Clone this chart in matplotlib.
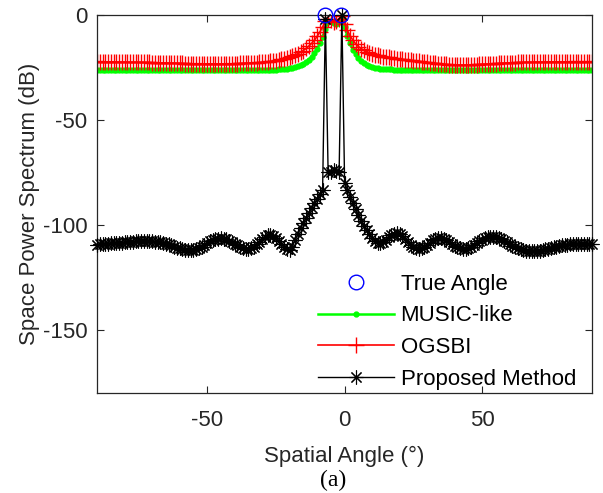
import matplotlib
matplotlib.use("Agg")
import matplotlib.pyplot as plt
import numpy as np

# ==========================================================
# Data (dB values, 1 degree grid)
# ==========================================================

angle_grid = np.arange(-90, 91, 1)

true_angles = [-7.3, -1.3]
true_power = [0.0, 0.0]

music_like = [
    -26.3, -26.3, -26.3, -26.3, -26.3, -26.3, -26.3, -26.3, -26.3, -26.3,   # -90
    -26.3, -26.3, -26.3, -26.3, -26.3, -26.3, -26.3, -26.3, -26.3, -26.3,   # -80
    -26.3, -26.3, -26.3, -26.3, -26.3, -26.3, -26.3, -26.3, -26.3, -26.3,   # -70
    -26.3, -26.3, -26.3, -26.3, -26.3, -26.3, -26.3, -26.3, -26.3, -26.3,   # -60
    -26.3, -26.3, -26.3, -26.3, -26.3, -26.3, -26.3, -26.3, -26.3, -26.3,   # -50
    -26.3, -26.3, -26.3, -26.3, -26.3, -26.3, -26.3, -26.3, -26.3, -26.3,   # -40
    -26.3, -26.2, -26.2, -26.2, -26.1, -26.1, -26.0, -25.9, -25.8, -25.7,   # -30
    -25.5, -25.3, -25.0, -24.6, -24.0, -23.3, -22.4, -21.3, -20.0, -18.3,   # -20
    -16.2, -13.6, -10.5, -6.8, -3.6, -3.0, -4.0, -4.5, -3.2, -2.4,          # -10
    -6.0, -10.0, -13.6, -16.6, -18.8, -20.6, -22.0, -23.1, -23.9, -24.5,    # 0
    -25.0, -25.3, -25.5, -25.7, -25.8, -25.9, -26.0, -26.0, -26.1, -26.1,   # 10
    -26.2, -26.2, -26.2, -26.2, -26.2, -26.3, -26.3, -26.3, -26.3, -26.3,   # 20
    -26.3, -26.3, -26.3, -26.3, -26.3, -26.3, -26.3, -26.3, -26.3, -26.3,   # 30
    -26.3, -26.3, -26.3, -26.3, -26.3, -26.3, -26.3, -26.3, -26.3, -26.3,   # 40
    -26.3, -26.3, -26.3, -26.3, -26.3, -26.3, -26.3, -26.3, -26.3, -26.3,   # 50
    -26.3, -26.3, -26.3, -26.3, -26.3, -26.3, -26.3, -26.3, -26.3, -26.3,   # 60
    -26.3, -26.3, -26.3, -26.3, -26.3, -26.3, -26.3, -26.3, -26.3, -26.3,   # 70
    -26.3, -26.3, -26.3, -26.3, -26.3, -26.3, -26.3, -26.3, -26.3, -26.3,   # 80
    -26.3,                                                                   # 90
]

ogsbi = [
    -22.3, -22.3, -22.3, -22.4, -22.4, -22.4, -22.4, -22.5, -22.5, -22.5,   # -90
    -22.5, -22.5, -22.6, -22.6, -22.6, -22.6, -22.7, -22.7, -22.7, -22.7,   # -80
    -22.8, -22.8, -22.8, -22.9, -22.9, -22.9, -23.0, -23.0, -23.0, -23.1,   # -70
    -23.1, -23.1, -23.2, -23.2, -23.2, -23.3, -23.3, -23.3, -23.3, -23.4,   # -60
    -23.4, -23.4, -23.4, -23.4, -23.4, -23.4, -23.4, -23.3, -23.3, -23.3,   # -50
    -23.2, -23.2, -23.1, -23.1, -23.0, -23.0, -22.9, -22.9, -22.8, -22.7,   # -40
    -22.6, -22.5, -22.3, -22.2, -22.0, -21.8, -21.5, -21.2, -20.9, -20.5,   # -30
    -20.1, -19.6, -19.1, -18.5, -17.8, -17.0, -16.0, -14.9, -13.6, -12.1,   # -20
    -10.3, -8.2, -5.8, -3.0, -2.0, -2.6, -3.3, -3.0, -1.8, -0.8,            # -10
    -4.2, -7.4, -10.0, -12.1, -13.8, -15.1, -16.1, -16.9, -17.6, -18.1,     # 0
    -18.6, -19.0, -19.3, -19.6, -19.9, -20.1, -20.3, -20.5, -20.7, -20.9,   # 10
    -21.1, -21.2, -21.4, -21.5, -21.7, -21.8, -22.0, -22.2, -22.3, -22.5,   # 20
    -22.6, -22.8, -22.9, -23.1, -23.2, -23.3, -23.5, -23.6, -23.7, -23.8,   # 30
    -23.8, -23.9, -23.9, -23.9, -23.9, -23.8, -23.8, -23.7, -23.7, -23.6,   # 40
    -23.5, -23.5, -23.4, -23.3, -23.2, -23.2, -23.1, -23.0, -23.0, -22.9,   # 50
    -22.9, -22.8, -22.8, -22.7, -22.7, -22.7, -22.6, -22.6, -22.6, -22.5,   # 60
    -22.5, -22.5, -22.5, -22.5, -22.4, -22.4, -22.4, -22.4, -22.4, -22.4,   # 70
    -22.4, -22.4, -22.3, -22.3, -22.3, -22.3, -22.3, -22.3, -22.3, -22.3,   # 80
    -22.3,                                                                   # 90
]

proposed = [
    -109.5, -109.3, -109.1, -109.0, -108.9, -108.8, -108.7, -108.6, -108.5, -108.4,   # -90
    -108.3, -108.2, -108.1, -108.0, -107.9, -107.9, -107.8, -107.8, -107.8, -107.8,   # -80
    -107.9, -108.0, -108.1, -108.3, -108.6, -108.9, -109.3, -109.8, -110.3, -110.8,   # -70
    -111.2, -111.6, -111.9, -112.1, -112.2, -112.0, -111.6, -111.0, -110.3, -109.5,   # -60
    -108.7, -107.9, -107.3, -106.8, -106.5, -106.4, -106.5, -106.9, -107.5, -108.2,   # -50
    -109.0, -109.8, -110.5, -111.0, -111.3, -111.4, -111.1, -110.4, -109.3, -108.0,   # -40
    -106.7, -105.6, -104.9, -104.8, -105.3, -106.3, -107.6, -109.0, -110.4, -111.5,   # -30
    -112.2, -110.4, -107.2, -104.5, -101.3, -99.0, -96.6, -94.2, -92.0, -89.8,        # -20
    -87.8, -85.5, -83.2, -1.8, -75.0, -74.6, -74.0, -74.3, -75.0, 0.0,                # -10
    -80.0, -83.2, -86.5, -89.5, -92.5, -95.3, -98.0, -100.4, -102.6, -104.5,          # 0
    -106.2, -107.6, -108.5, -108.7, -108.2, -107.2, -105.9, -104.8, -104.2, -104.1,   # 10
    -104.5, -105.4, -106.7, -108.1, -109.5, -110.6, -111.2, -111.4, -111.2, -110.5,   # 20
    -109.5, -108.4, -107.4, -106.8, -106.4, -106.4, -106.7, -107.3, -108.1, -109.0,   # 30
    -109.9, -110.6, -111.1, -111.4, -111.4, -111.1, -110.5, -109.7, -108.8, -107.9,   # 40
    -107.1, -106.4, -105.9, -105.6, -105.6, -105.8, -106.2, -106.8, -107.5, -108.3,   # 50
    -109.1, -109.9, -110.6, -111.2, -111.7, -112.1, -112.4, -112.5, -112.6, -112.6,   # 60
    -112.5, -112.3, -112.0, -111.7, -111.3, -110.9, -110.6, -110.3, -110.0, -109.8,   # 70
    -109.6, -109.4, -109.3, -109.2, -109.1, -109.1, -109.0, -109.0, -109.0, -109.0,   # 80
    -109.0,                                                                            # 90
]

x_ticks = [-50, 0, 50]
y_ticks = [-150, -100, -50, 0]

# ==========================================================
# Figure
# ==========================================================

plt.rcParams["font.family"] = ["Liberation Sans", "DejaVu Sans"]
plt.rcParams["font.size"] = 16
plt.rcParams["axes.unicode_minus"] = False

AXIS_GREY = "#262626"
ASTERISK = (8, 2, 0)   # MATLAB style '*' marker

fig = plt.figure(figsize=(6.03, 4.93), dpi=100)
ax = fig.add_axes([0.161, 0.203, 0.821, 0.767])

ax.plot(true_angles, true_power, linestyle="none", marker="o",
        markersize=10.5, markerfacecolor="none", markeredgecolor="blue",
        markeredgewidth=1.0, clip_on=False, zorder=5, label="True Angle")

ax.plot(angle_grid, music_like, color=(0, 1, 0), linewidth=1.8,
        marker=".", markersize=7, label="MUSIC-like")

ax.plot(angle_grid, ogsbi, color="red", linewidth=1.2,
        marker="+", markersize=12, markeredgewidth=1.0, label="OGSBI")

ax.plot(angle_grid, proposed, color="black", linewidth=1.0,
        marker=ASTERISK, markersize=10, markeredgewidth=0.8, clip_on=False,
        zorder=4, label="Proposed Method")

ax.set_xlim(-90, 90)
ax.set_ylim(-180, 0)
ax.set_xticks(x_ticks)
ax.set_yticks(y_ticks)

ax.tick_params(direction="in", top=True, right=True, length=5,
               width=0.8, color=AXIS_GREY, labelcolor=AXIS_GREY,
               labelsize=16)
ax.tick_params(axis="x", pad=12)
ax.tick_params(axis="y", pad=7)
for spine in ax.spines.values():
    spine.set_color(AXIS_GREY)
    spine.set_linewidth(0.9)

ax.set_xlabel("Spatial Angle (°)", fontsize=16, color=AXIS_GREY, labelpad=11)
ax.set_ylabel("Space Power Spectrum (dB)", fontsize=16, color=AXIS_GREY,
              labelpad=2)

leg = ax.legend(loc="upper left", bbox_to_anchor=(0.528, 0.445),
                bbox_transform=fig.transFigure, frameon=False,
                fontsize=16, handlelength=3.4, handletextpad=0.3,
                labelspacing=0.48, borderaxespad=0, borderpad=0)

fig.text(0.553, 0.026, "(a)", family="Liberation Serif", fontsize=17,
         ha="center", va="center")

fig.savefig("out.png", dpi=100)
